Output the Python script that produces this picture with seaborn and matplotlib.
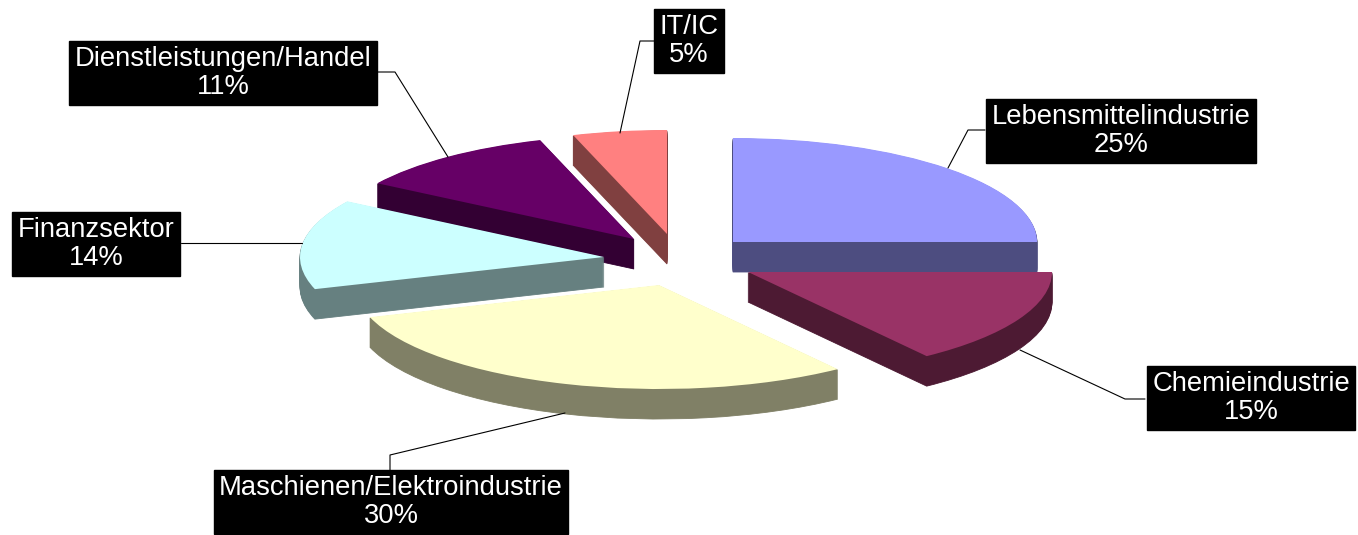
import seaborn as sns
import numpy as np
import matplotlib.pyplot as plt

sectors = ['Lebensmittelindustrie', 'Chemieindustrie', 'Maschienen/Elektroindustrie',
           'Finanzsektor', 'Dienstleistungen/Handel', 'IT/IC']
shares = [25, 15, 30, 14, 11, 5]
hex_colors = ['#9999FF', '#993366', '#FFFFCC', '#CCFFFF', '#660066', '#FF8080']

# paint order, back slices first
paint_order = [2, 4, 3, 5, 1, 0]

# pulled-out apex of each slice, in picture pixels
apex = [(733, 242), (748, 272), (659, 285), (604, 257), (634, 239), (667, 234)]

# label box centre and leader line, in picture pixels
label_pos = [(1121, 131), (1251, 398), (391, 502), (96, 244), (223, 73), (689, 41)]
leaders = [
    [(985, 130), (968, 130), (948, 168)],
    [(1145, 399), (1125, 399), (1020, 350)],
    [(390, 470), (390, 455), (565, 413)],
    [(181, 243), (302, 243)],
    [(378, 72), (395, 72), (448, 157)],
    [(657, 41), (640, 41), (620, 133)],
]

W, H = 1358, 535
RX, RY = 304, 104   # squashed radii
DEPTH = 30

sns.set_theme(style='white')
plt.rcParams['font.family'] = ['Liberation Sans', 'DejaVu Sans']

top_colors = sns.color_palette(hex_colors)
wall_colors = [tuple(np.array(c) * 0.5) for c in top_colors]

fig = plt.figure(figsize=(W / 100, H / 100), dpi=100)
ax = fig.add_axes([0, 0, 1, 1])

# stacked copies of the pie give the extruded side walls
for px in list(range(DEPTH, 0, -1)) + [0]:
    colors = top_colors if px == 0 else wall_colors
    wedges, _ = ax.pie(shares, colors=colors, startangle=90, counterclock=False,
                       wedgeprops={'linewidth': 0.6 if px else 0})
    for i, w in enumerate(wedges):
        w.set_center((apex[i][0] / RX, -(apex[i][1] + px) / RY))
        w.set_edgecolor(colors[i] if px else 'none')
        w.set_zorder(paint_order[i] + (1 - px / DEPTH) * 0.9)

ax.set_aspect('auto')
ax.set_xlim(0, W / RX)
ax.set_ylim(-H / RY, 0)
ax.axis('off')

# overlay in pixel coordinates for the callouts
ov = fig.add_axes([0, 0, 1, 1], facecolor='none')
ov.set_xlim(0, W)
ov.set_ylim(H, 0)
ov.axis('off')

for name, share, pos, line in zip(sectors, shares, label_pos, leaders):
    xs, ys = zip(*line)
    ov.plot(xs, ys, color='black', lw=0.8, zorder=1)
    ov.text(pos[0], pos[1], f'{name}\n{share}%', color='white', fontsize=19.7,
            ha='center', va='center', linespacing=1.1, zorder=2,
            bbox={'facecolor': 'black', 'edgecolor': 'black', 'pad': 4})

fig.savefig('out.png', dpi=100, facecolor='white')
